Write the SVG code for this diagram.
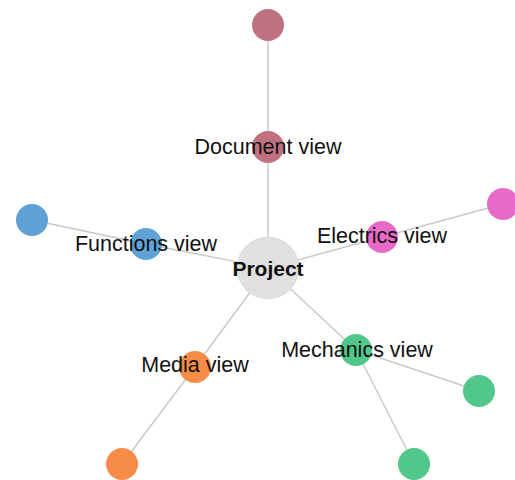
<svg xmlns="http://www.w3.org/2000/svg" width="515" height="480" viewBox="0 0 515 480">
<style>
.link{stroke:#c8c8c8;stroke-width:1.4;fill:none}
.lbl{font-family:"Liberation Sans",Arial,sans-serif;font-size:21.5px;fill:#111;text-anchor:middle}
.root{font-weight:bold;font-size:21px}
.doc{fill:#c0717f}
.fun{fill:#5ea2d6}
.ele{fill:#e86ac6}
.mec{fill:#52c78c}
.med{fill:#f78c48}
</style>
<rect width="515" height="480" fill="#fff"/>
<g id="connectors">
<line class="link" x1="268" y1="268" x2="268" y2="147"/>
<line class="link" x1="268" y1="147" x2="268" y2="25"/>
<line class="link" x1="268" y1="268" x2="146" y2="244"/>
<line class="link" x1="146" y1="244" x2="32" y2="220"/>
<line class="link" x1="268" y1="268" x2="382" y2="237"/>
<line class="link" x1="382" y1="237" x2="503" y2="204"/>
<line class="link" x1="268" y1="268" x2="356" y2="350"/>
<line class="link" x1="356" y1="350" x2="479" y2="391"/>
<line class="link" x1="356" y1="350" x2="414" y2="464"/>
<line class="link" x1="268" y1="268" x2="195" y2="367"/>
<line class="link" x1="195" y1="367" x2="122" y2="464"/>
</g>
<g id="doc-far"><circle class="doc" cx="268" cy="25" r="16"/></g>
<g id="fun-far"><circle class="fun" cx="32" cy="220" r="16"/></g>
<g id="ele-far"><circle class="ele" cx="503" cy="204" r="16"/></g>
<g id="mec-far1"><circle class="mec" cx="479" cy="391" r="16"/></g>
<g id="mec-far2"><circle class="mec" cx="414" cy="464" r="16"/></g>
<g id="med-far"><circle class="med" cx="122" cy="464" r="16"/></g>
<g id="project"><circle cx="268" cy="268" r="31.5" fill="#e0e0e0"/><text class="lbl root" x="268" y="276">Project</text></g>
<g id="document-view"><circle class="doc" cx="268" cy="147" r="16"/><text class="lbl" x="268" y="154">Document view</text></g>
<g id="functions-view"><circle class="fun" cx="146" cy="244" r="16"/><text class="lbl" x="146" y="251">Functions view</text></g>
<g id="electrics-view"><circle class="ele" cx="382" cy="237" r="16"/><text class="lbl" x="382" y="243">Electrics view</text></g>
<g id="mechanics-view"><circle class="mec" cx="356" cy="350" r="16"/><text class="lbl" x="357" y="357">Mechanics view</text></g>
<g id="media-view"><circle class="med" cx="195" cy="367" r="16"/><text class="lbl" x="195" y="372">Media view</text></g>
</svg>
